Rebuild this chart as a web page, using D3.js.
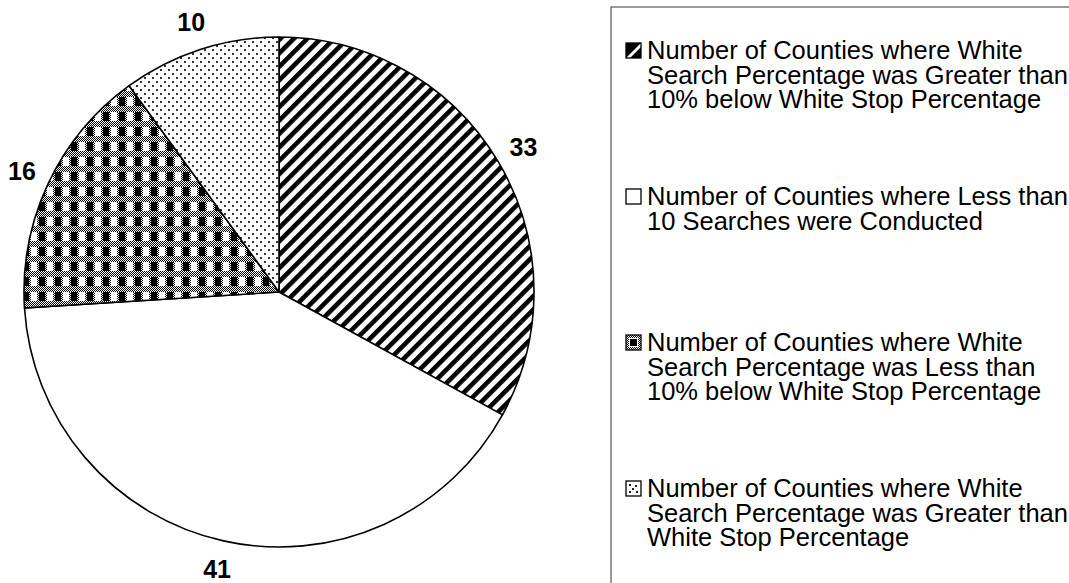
<!DOCTYPE html>
<html>
<head>
<meta charset="utf-8">
<script src="https://cdn.jsdelivr.net/npm/d3@7"></script>
<style>
  html, body { margin: 0; padding: 0; background: #fff; }
  svg { display: block; }
  text { font-family: "Liberation Sans", Arial, sans-serif; fill: #000; }
</style>
</head>
<body>
<svg id="chart" width="1069" height="583"></svg>
<script>
// ---- data ----
const categories = [
  "Number of Counties where White Search Percentage was Greater than 10% below White Stop Percentage",
  "Number of Counties where Less than 10 Searches were Conducted",
  "Number of Counties where White Search Percentage was Less than 10% below White Stop Percentage",
  "Number of Counties where White Search Percentage was Greater than White Stop Percentage"
];
const values = [33, 41, 16, 10];
const legendLines = [
  ["Number of Counties where White", "Search Percentage was Greater than", "10% below White Stop Percentage"],
  ["Number of Counties where Less than", "10 Searches were Conducted"],
  ["Number of Counties where White", "Search Percentage was Less than", "10% below White Stop Percentage"],
  ["Number of Counties where White", "Search Percentage was Greater than", "White Stop Percentage"]
];
const fills = ["url(#hatch)", "#ffffff", "url(#plaid)", "url(#dots)"];
const markerKinds = ["hatch", "white", "plaid", "dots"];

// ---- setup ----
const svg = d3.select("#chart");
const cx = 279, cy = 292, R = 255;

const defs = svg.append("defs");
// diagonal hatch
const ph = defs.append("pattern").attr("id", "hatch")
  .attr("patternUnits", "userSpaceOnUse").attr("width", 9.5).attr("height", 9.5)
  .attr("patternTransform", "rotate(45)");
ph.append("rect").attr("width", 9.5).attr("height", 9.5).attr("fill", "#fff");
ph.append("rect").attr("width", 4.6).attr("height", 9.5).attr("fill", "#000");

// fine grey checker
const pc = defs.append("pattern").attr("id", "fine")
  .attr("patternUnits", "userSpaceOnUse").attr("width", 2).attr("height", 2);
pc.append("rect").attr("width", 2).attr("height", 2).attr("fill", "#fff");
pc.append("rect").attr("width", 1).attr("height", 1).attr("fill", "#000");
pc.append("rect").attr("x", 1).attr("y", 1).attr("width", 1).attr("height", 1).attr("fill", "#000");

// plaid
const pp = defs.append("pattern").attr("id", "plaid")
  .attr("patternUnits", "userSpaceOnUse").attr("width", 16).attr("height", 15);
pp.append("rect").attr("width", 16).attr("height", 15).attr("fill", "url(#fine)");
pp.append("rect").attr("x", 0).attr("y", 0).attr("width", 6).attr("height", 9).attr("fill", "#000");
pp.append("rect").attr("x", 8).attr("y", 0).attr("width", 6).attr("height", 9).attr("fill", "#fff");

// dots
const pd = defs.append("pattern").attr("id", "dots")
  .attr("patternUnits", "userSpaceOnUse").attr("width", 8).attr("height", 8);
pd.append("rect").attr("width", 8).attr("height", 8).attr("fill", "#fff");
pd.append("rect").attr("x", 1).attr("y", 1).attr("width", 2).attr("height", 2).attr("fill", "#333");
pd.append("rect").attr("x", 5).attr("y", 5).attr("width", 2).attr("height", 2).attr("fill", "#333");

// ---- pie ----
const pie = d3.pie().sort(null).value(d => d);
const arcs = pie(values);
const arc = d3.arc().innerRadius(0).outerRadius(R);
const labelArc = d3.arc().innerRadius(R + 29).outerRadius(R + 29);

const g = svg.append("g").attr("transform", `translate(${cx},${cy})`);
g.selectAll("path.slice").data(arcs).enter().append("path")
  .attr("class", "slice")
  .attr("d", arc)
  .attr("fill", (d, i) => fills[i])
  .attr("stroke", "#000")
  .attr("stroke-width", 1.6)
  .attr("stroke-linejoin", "round");

g.selectAll("text.lab").data(arcs).enter().append("text")
  .attr("class", "lab")
  .attr("transform", d => `translate(${labelArc.centroid(d)})`)
  .attr("text-anchor", "middle")
  .attr("dominant-baseline", "central")
  .attr("font-size", 25)
  .attr("font-weight", "bold")
  .text(d => d.data);

// ---- legend ----
const lx = 611, ly = 7;
svg.append("rect").attr("x", lx).attr("y", ly).attr("width", 520).attr("height", 620)
  .attr("fill", "none").attr("stroke", "#666").attr("stroke-width", 1.3);

const firstBase = 59, entryStep = 146, lineStep = 24.5;
const mx = 626, ms = 15;
const lg = svg.append("g");
legendLines.forEach((lines, i) => {
  const base = firstBase + i * entryStep;
  const my = base - 16;
  const m = lg.append("g").attr("transform", `translate(${mx},${my})`);
  const kind = markerKinds[i];
  if (kind === "hatch") {
    m.append("rect").attr("width", ms).attr("height", ms).attr("fill", "#000");
    m.append("path").attr("d", `M0,${ms} L${ms},0 L${ms},4 L4,${ms} Z`).attr("fill", "#fff");
  } else if (kind === "white") {
    m.append("rect").attr("width", ms).attr("height", ms).attr("fill", "#fff");
  } else if (kind === "plaid") {
    m.append("rect").attr("width", ms).attr("height", ms).attr("fill", "url(#fine)");
    m.append("rect").attr("x", 3).attr("y", 3).attr("width", ms - 6).attr("height", ms - 6).attr("fill", "#fff");
    m.append("rect").attr("x", 4).attr("y", 4).attr("width", ms - 8).attr("height", ms - 8).attr("fill", "#000");
  } else {
    m.append("rect").attr("width", ms).attr("height", ms).attr("fill", "#fff");
    [[4, 4], [10, 5], [7, 8], [4, 11], [11, 11]].forEach(p => {
      m.append("rect").attr("x", p[0] - 1).attr("y", p[1] - 1).attr("width", 2).attr("height", 2).attr("fill", "#222");
    });
  }
  m.append("rect").attr("width", ms).attr("height", ms).attr("fill", "none")
    .attr("stroke", "#000").attr("stroke-width", 1.3);

  lines.forEach((ln, j) => {
    lg.append("text").attr("font-size", 25.5)
      .attr("x", 647).attr("y", base + j * lineStep).text(ln);
  });
});
</script>
</body>
</html>
